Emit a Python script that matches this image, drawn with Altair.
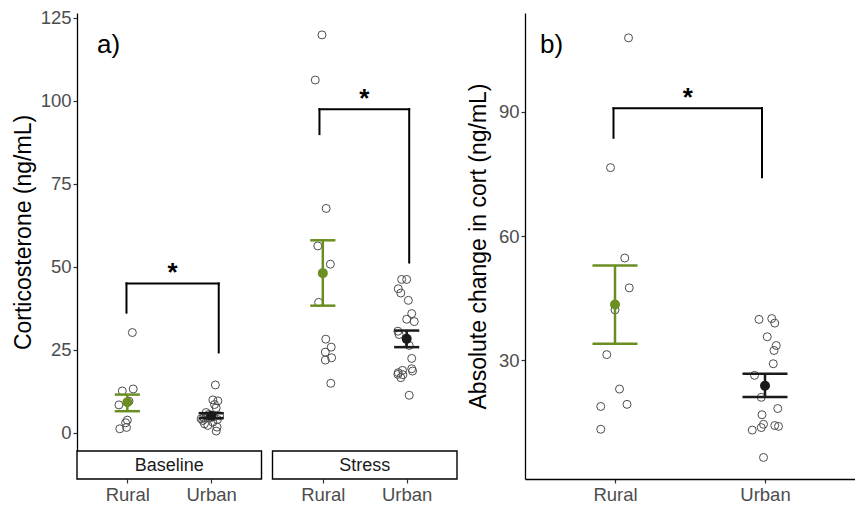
import altair as alt
import pandas as pd

# ---------------- data ----------------
groups = ["Rural", "Urban"]
treatments = ["Baseline", "Stress"]

# panel a) corticosterone (ng/mL) and horizontal jitter (category units)
baseline_rural = [30.2, 12.6, 13.2, 8.4, 9.5, 3.8, 3.0, 1.2, 1.6]
baseline_rural_jitter = [0.06, -0.06, 0.07, -0.10, 0.02, 0.00, -0.02, -0.09, -0.01]
baseline_urban = [14.4, 9.9, 9.6, 8.5, 7.5, 6.1, 3.7, 2.7, 2.2, 3.2, 1.7, 0.5, 4.6, 5.1,
                  5.5, 4.2, 4.8, 5.0, 4.0, 4.5]
baseline_urban_jitter = [0.05, 0.02, 0.08, 0.04, 0.06, -0.06, -0.10, -0.08, -0.04, 0.02, 0.07,
                         0.06, 0.00, 0.10, -0.03, -0.12, 0.03, -0.055, 0.075, -0.09]
stress_rural = [119.9, 106.3, 67.6, 56.3, 50.8, 39.3, 28.2, 25.8, 24.3, 22.6, 21.9, 14.9]
stress_rural_jitter = [-0.01, -0.09, 0.04, -0.06, 0.09, -0.05, 0.035, 0.10, 0.03, 0.105, 0.03, 0.095]
stress_urban = [46.2, 46.2, 43.4, 42.1, 39.9, 35.9, 34.2, 33.5, 30.6, 29.6, 26.3, 22.4, 18.1,
                18.8, 19.3, 18.6, 16.6, 17.5, 17.6, 11.3]
stress_urban_jitter = [-0.06, 0.00, -0.10, -0.07, 0.02, 0.06, 0.00, 0.09, -0.105, -0.09, 0.03,
                       0.06, -0.10, -0.05, 0.06, 0.07, -0.07, -0.045, -0.105, 0.03]

# mean +/- SE, order: Baseline-Rural, Baseline-Urban, Stress-Rural, Stress-Urban
a_mean = [9.2, 5.1, 48.1, 28.3]
a_low = [6.5, 4.4, 38.3, 25.8]
a_high = [11.5, 5.9, 58.0, 30.8]

# significance brackets in panel a) (x in category units within facet)
a_bracket_x = [[0.99, 2.09], [0.96, 2.03]]
a_bracket_top = [45.0, 97.5]
a_bracket_ends = [[36.2, 24.2], [90.0, 51.3]]

# panel b) absolute change in cort (ng/mL)
change_rural = [107.8, 76.5, 54.7, 47.5, 42.2, 31.4, 23.1, 18.9, 19.4, 13.4]
change_rural_jitter = [0.09, -0.03, 0.065, 0.095, 0.0, -0.055, 0.03, -0.095, 0.08, -0.095]
change_urban = [39.9, 40.1, 39.0, 35.7, 33.6, 32.4, 29.2, 26.4, 21.1, 18.4, 16.9, 14.6, 13.8,
                13.2, 14.3, 14.1, 6.6]
change_urban_jitter = [-0.04, 0.045, 0.065, 0.015, 0.075, 0.06, 0.055, -0.07, -0.025, 0.085,
                       -0.02, -0.01, -0.025, -0.085, 0.065, 0.09, -0.01]
b_mean = [43.5, 23.9]
b_low = [34.0, 21.2]
b_high = [52.9, 26.8]
b_bracket_x = [0.99, 1.98]
b_bracket_top = 90.8
b_bracket_ends = [83.7, 74.2]

# ---------------- layout ----------------
FONT = "Liberation Sans"
GREEN = "#6B8E23"
DARK = "#1A1A1A"
A_W, A_H = 380, 438
B_W, B_H = 330, 466
STRIP_H = 28
GAP_PX = 11
facet_w = (A_W - GAP_PX) / 2
unit = facet_w / 2.2
gap_u = GAP_PX / unit
facet_off = {"Baseline": 0.0, "Stress": 2.2 + gap_u}
a_domain = [0.4, 0.4 + 2 * 2.2 + gap_u]

color = alt.Color("group:N", scale=alt.Scale(domain=groups, range=[GREEN, DARK]), legend=None)

# ---------------- panel a data ----------------
raw = {
    ("Baseline", "Rural"): (baseline_rural, baseline_rural_jitter),
    ("Baseline", "Urban"): (baseline_urban, baseline_urban_jitter),
    ("Stress", "Rural"): (stress_rural, stress_rural_jitter),
    ("Stress", "Urban"): (stress_urban, stress_urban_jitter),
}
rows = []
for (t, g), (vals, jit) in raw.items():
    base = facet_off[t] + groups.index(g) + 1
    for v, j in zip(vals, jit):
        rows.append({"treatment": t, "group": g, "x": base + j, "y": v})
a_pts = pd.DataFrame(rows)

srows = []
i = 0
for t in treatments:
    for g in groups:
        pos = facet_off[t] + groups.index(g) + 1
        srows.append({"treatment": t, "group": g, "x": pos, "xl": pos - 0.15, "xr": pos + 0.15,
                      "mean": a_mean[i], "low": a_low[i], "high": a_high[i]})
        i += 1
a_sum = pd.DataFrame(srows)

seg = []
stars = []
for k, t in enumerate(treatments):
    xl = facet_off[t] + a_bracket_x[k][0]
    xr = facet_off[t] + a_bracket_x[k][1]
    top = a_bracket_top[k]
    seg.append({"x": xl, "x2": xr, "y": top, "y2": top})
    seg.append({"x": xl, "x2": xl, "y": a_bracket_ends[k][0], "y2": top})
    seg.append({"x": xr, "x2": xr, "y": a_bracket_ends[k][1], "y2": top})
    stars.append({"x": (xl + xr) / 2, "y": top, "t": "*"})
a_seg = pd.DataFrame(seg)
a_star = pd.DataFrame(stars)

a_strip = pd.DataFrame({
    "treatment": treatments,
    "x0": [facet_off[t] + 0.4 for t in treatments],
    "x1": [facet_off[t] + 2.6 for t in treatments],
    "xm": [facet_off[t] + 1.5 for t in treatments],
})

a_tick_vals = [facet_off[t] + k for t in treatments for k in (1, 2)]
xa_scale = alt.Scale(domain=a_domain, nice=False, zero=False)
xa_axis = alt.Axis(values=a_tick_vals, labelExpr="abs(datum.value - 1) < 0.01 || abs(datum.value - %f) < 0.01 ? 'Rural' : 'Urban'" % (facet_off["Stress"] + 1),
                   domain=False, ticks=True, tickSize=4, tickColor="#333333", tickWidth=1.2,
                   offset=STRIP_H, labelPadding=2, labelFontSize=18.5, labelColor="#4D4D4D",
                   labelFont=FONT, title=None, grid=False)
ya_scale = alt.Scale(domain=[-5.5, 126.5], nice=False, zero=False)
ya_axis = alt.Axis(values=[0, 25, 50, 75, 100, 125], tickSize=4, tickColor="#333333", tickWidth=1.2,
                   domainColor="black", domainWidth=1.3, labelFontSize=18.5, labelColor="#4D4D4D",
                   labelFont=FONT, labelPadding=2, title="Corticosterone (ng/mL)", titleFontSize=23,
                   titleFont=FONT, titleFontWeight="normal", titleColor="black", titlePadding=5,
                   grid=False)


def XA(f):
    return alt.X(f, scale=xa_scale, axis=xa_axis)


def YA(f):
    return alt.Y(f, scale=ya_scale, axis=ya_axis)


PT_SIZE = 64
a_points = alt.Chart(a_pts).mark_point(shape="circle", filled=False, size=PT_SIZE, color="#4D4D4D",
                                       strokeWidth=1, opacity=1).encode(x=XA("x:Q"), y=YA("y:Q"))
a_bar = alt.Chart(a_sum).mark_rule(strokeWidth=2.5).encode(x=XA("x:Q"), y=YA("low:Q"), y2="high:Q", color=color)
a_cap_lo = alt.Chart(a_sum).mark_rule(strokeWidth=2.5).encode(x=XA("xl:Q"), x2="xr:Q", y=YA("low:Q"), color=color)
a_cap_hi = alt.Chart(a_sum).mark_rule(strokeWidth=2.5).encode(x=XA("xl:Q"), x2="xr:Q", y=YA("high:Q"), color=color)
a_means = alt.Chart(a_sum).mark_circle(size=100, opacity=1).encode(x=XA("x:Q"), y=YA("mean:Q"), color=color)
a_br = alt.Chart(a_seg).mark_rule(strokeWidth=2, color="black", strokeCap="square").encode(
    x=XA("x:Q"), x2="x2:Q", y=YA("y:Q"), y2="y2:Q")
a_st = alt.Chart(a_star).mark_text(fontSize=26, font=FONT, fontWeight="bold", baseline="alphabetic",
                                   dy=-2, color="black").encode(x=XA("x:Q"), y=YA("y:Q"), text="t:N")
a_strip_rect = alt.Chart(a_strip).mark_rect(fill="white", stroke="black", strokeWidth=1.4).encode(
    x=XA("x0:Q"), x2="x1:Q", y=alt.value(A_H), y2=alt.value(A_H + STRIP_H))
a_strip_txt = alt.Chart(a_strip).mark_text(fontSize=18, font=FONT, color="#1A1A1A", baseline="middle").encode(
    x=XA("xm:Q"), y=alt.value(A_H + STRIP_H / 2 + 1), text="treatment:N")
a_lab = alt.Chart(pd.DataFrame({"t": ["a)"]})).mark_text(fontSize=26, font=FONT, align="left",
                                                         baseline="alphabetic", color="black").encode(
    x=alt.value(20), y=alt.value(40), text="t:N")

panel_a = alt.layer(a_points, a_bar, a_cap_lo, a_cap_hi, a_means, a_br, a_st, a_strip_rect,
                    a_strip_txt, a_lab).properties(width=A_W, height=A_H)

# ---------------- panel b data ----------------
brows = []
for g, (vals, jit) in zip(groups, [(change_rural, change_rural_jitter), (change_urban, change_urban_jitter)]):
    for v, j in zip(vals, jit):
        brows.append({"group": g, "x": groups.index(g) + 1 + j, "y": v})
b_pts = pd.DataFrame(brows)
b_sum = pd.DataFrame({"group": groups, "x": [1, 2], "xl": [0.85, 1.85], "xr": [1.15, 2.15],
                      "mean": b_mean, "low": b_low, "high": b_high})
bxl, bxr = b_bracket_x
b_seg = pd.DataFrame([
    {"x": bxl, "x2": bxr, "y": b_bracket_top, "y2": b_bracket_top},
    {"x": bxl, "x2": bxl, "y": b_bracket_ends[0], "y2": b_bracket_top},
    {"x": bxr, "x2": bxr, "y": b_bracket_ends[1], "y2": b_bracket_top},
])
b_star = pd.DataFrame({"x": [(bxl + bxr) / 2], "y": [b_bracket_top], "t": ["*"]})

xb_scale = alt.Scale(domain=[0.4, 2.6], nice=False, zero=False)
xb_axis = alt.Axis(values=[1, 2], labelExpr="datum.value == 1 ? 'Rural' : 'Urban'", domain=True,
                   domainColor="black", domainWidth=1.3, tickSize=4, tickColor="#333333", tickWidth=1.2,
                   labelPadding=2, labelFontSize=18.5, labelColor="#4D4D4D", labelFont=FONT,
                   title=None, grid=False)
yb_scale = alt.Scale(domain=[1.4, 113.8], nice=False, zero=False)
yb_axis = alt.Axis(values=[30, 60, 90], tickSize=4, tickColor="#333333", tickWidth=1.2,
                   domainColor="black", domainWidth=1.3, labelFontSize=18.5, labelColor="#4D4D4D",
                   labelFont=FONT, labelPadding=2, title="Absolute change in cort (ng/mL)",
                   titleFontSize=23, titleFont=FONT, titleFontWeight="normal", titleColor="black",
                   titlePadding=8, grid=False)


def XB(f):
    return alt.X(f, scale=xb_scale, axis=xb_axis)


def YB(f):
    return alt.Y(f, scale=yb_scale, axis=yb_axis)


b_points = alt.Chart(b_pts).mark_point(shape="circle", filled=False, size=PT_SIZE, color="#4D4D4D",
                                       strokeWidth=1, opacity=1).encode(x=XB("x:Q"), y=YB("y:Q"))
b_bar = alt.Chart(b_sum).mark_rule(strokeWidth=2.5).encode(x=XB("x:Q"), y=YB("low:Q"), y2="high:Q", color=color)
b_cap_lo = alt.Chart(b_sum).mark_rule(strokeWidth=2.5).encode(x=XB("xl:Q"), x2="xr:Q", y=YB("low:Q"), color=color)
b_cap_hi = alt.Chart(b_sum).mark_rule(strokeWidth=2.5).encode(x=XB("xl:Q"), x2="xr:Q", y=YB("high:Q"), color=color)
b_means = alt.Chart(b_sum).mark_circle(size=100, opacity=1).encode(x=XB("x:Q"), y=YB("mean:Q"), color=color)
b_br = alt.Chart(b_seg).mark_rule(strokeWidth=2, color="black", strokeCap="square").encode(
    x=XB("x:Q"), x2="x2:Q", y=YB("y:Q"), y2="y2:Q")
b_st = alt.Chart(b_star).mark_text(fontSize=26, font=FONT, fontWeight="bold", baseline="alphabetic",
                                   dy=-2, color="black").encode(x=XB("x:Q"), y=YB("y:Q"), text="t:N")
b_lab = alt.Chart(pd.DataFrame({"t": ["b)"]})).mark_text(fontSize=26, font=FONT, align="left",
                                                         baseline="alphabetic", color="black").encode(
    x=alt.value(15), y=alt.value(40), text="t:N")

panel_b = alt.layer(b_points, b_bar, b_cap_lo, b_cap_hi, b_means, b_br, b_st, b_lab).properties(
    width=B_W, height=B_H)

chart = alt.hconcat(panel_a, panel_b, spacing=68, bounds="flush").properties(
    padding={"left": 4, "top": 0, "right": 0, "bottom": 0}
).configure(font=FONT).configure_view(stroke=None)

chart.save("out.html", embed_options={"renderer": "svg", "actions": False})
